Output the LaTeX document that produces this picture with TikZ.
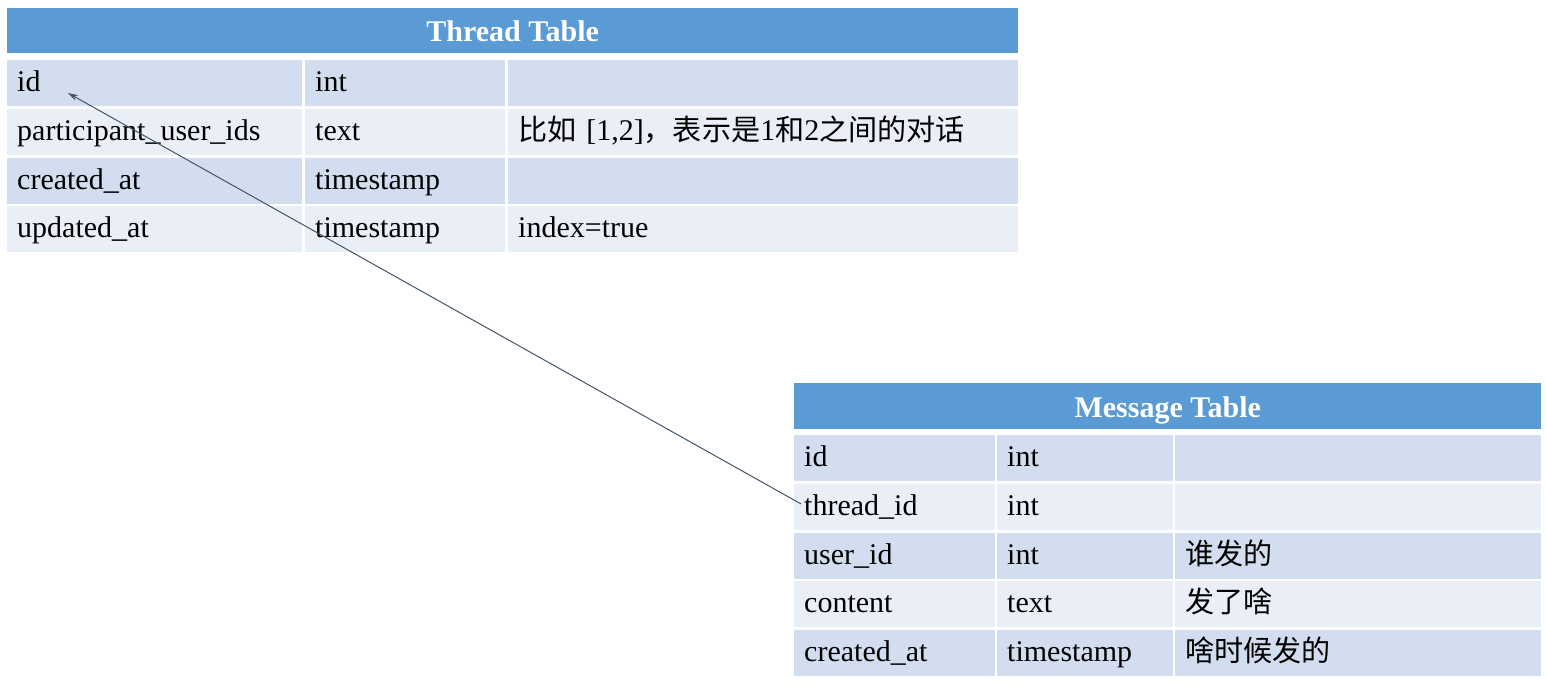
\documentclass[tikz,border=0pt]{standalone}
\usepackage{fontspec}
\setmainfont{Liberation Serif}
\newfontfamily\cjk[Scale=0.97]{Noto Sans CJK SC}
\usetikzlibrary{arrows.meta}
\definecolor{hdr}{HTML}{5B9BD5}
\definecolor{rowdark}{HTML}{D2DEEF}
\definecolor{rowlight}{HTML}{EAEFF7}
\definecolor{conncol}{HTML}{44546A}
\tikzset{
  cellbox/.style={anchor=north west, inner xsep=10pt, inner ysep=0pt,
    text height=21pt, text depth=4pt, align=left, draw=none,
    font=\fontsize{30}{36}\selectfont},
  dark/.style={fill=rowdark},
  light/.style={fill=rowlight},
  hdrbox/.style={anchor=north west, fill=hdr, text=white, inner sep=0pt,
    text height=23pt, text depth=1pt, align=center,
    font=\fontsize{30}{36}\selectfont\bfseries},
  conn/.style={draw=conncol, line width=1pt, -{Stealth[length=10pt,width=6pt]}},
}
\begin{document}
\begin{tikzpicture}[x=1pt,y=-1pt]
\useasboundingbox (0,0) rectangle (1547,688);
% ---------- Thread table ----------
\node[hdrbox, minimum width=1011pt, minimum height=45pt] (th) at (7,8) {Thread Table};
% row 1
\node[cellbox, dark, minimum width=295pt, minimum height=46pt, text width=275pt] (t11) at (7,60) {id};
\node[cellbox, dark, minimum width=200pt, minimum height=46pt, text width=180pt] (t12) at (305,60) {int};
\node[cellbox, dark, minimum width=510pt, minimum height=46pt, text width=490pt] (t13) at (508,60) {};
% row 2
\node[cellbox, light, minimum width=295pt, minimum height=46pt, text width=275pt] (t21) at (7,108.7) {participant\_user\_ids};
\node[cellbox, light, minimum width=200pt, minimum height=46pt, text width=180pt] (t22) at (305,108.7) {text};
\node[cellbox, light, minimum width=510pt, minimum height=46pt, text width=490pt] (t23) at (508,108.7) {{\cjk 比如} [1,2]{\cjk ，表示是}1{\cjk 和}2{\cjk 之间的对话}};
% row 3
\node[cellbox, dark, minimum width=295pt, minimum height=46pt, text width=275pt] (t31) at (7,157.3) {created\_at};
\node[cellbox, dark, minimum width=200pt, minimum height=46pt, text width=180pt] (t32) at (305,157.3) {timestamp};
\node[cellbox, dark, minimum width=510pt, minimum height=46pt, text width=490pt] (t33) at (508,157.3) {};
% row 4
\node[cellbox, light, minimum width=295pt, minimum height=46pt, text width=275pt] (t41) at (7,206) {updated\_at};
\node[cellbox, light, minimum width=200pt, minimum height=46pt, text width=180pt] (t42) at (305,206) {timestamp};
\node[cellbox, light, minimum width=510pt, minimum height=46pt, text width=490pt] (t43) at (508,206) {index=true};
% ---------- Message table ----------
\node[hdrbox, minimum width=747pt, minimum height=46pt] (mh) at (794,383) {Message Table};
% row 1
\node[cellbox, dark, minimum width=201pt, minimum height=46pt, text width=181pt] (m11) at (794,435) {id};
\node[cellbox, dark, minimum width=176pt, minimum height=46pt, text width=156pt] (m12) at (997,435) {int};
\node[cellbox, dark, minimum width=366pt, minimum height=46pt, text width=346pt] (m13) at (1175,435) {};
% row 2
\node[cellbox, light, minimum width=201pt, minimum height=46pt, text width=181pt] (m21) at (794,483.75) {thread\_id};
\node[cellbox, light, minimum width=176pt, minimum height=46pt, text width=156pt] (m22) at (997,483.75) {int};
\node[cellbox, light, minimum width=366pt, minimum height=46pt, text width=346pt] (m23) at (1175,483.75) {};
% row 3
\node[cellbox, dark, minimum width=201pt, minimum height=46pt, text width=181pt] (m31) at (794,532.5) {user\_id};
\node[cellbox, dark, minimum width=176pt, minimum height=46pt, text width=156pt] (m32) at (997,532.5) {int};
\node[cellbox, dark, minimum width=366pt, minimum height=46pt, text width=346pt] (m33) at (1175,532.5) {{\cjk 谁发的}};
% row 4
\node[cellbox, light, minimum width=201pt, minimum height=46pt, text width=181pt] (m41) at (794,581.25) {content};
\node[cellbox, light, minimum width=176pt, minimum height=46pt, text width=156pt] (m42) at (997,581.25) {text};
\node[cellbox, light, minimum width=366pt, minimum height=46pt, text width=346pt] (m43) at (1175,581.25) {{\cjk 发了啥}};
% row 5
\node[cellbox, dark, minimum width=201pt, minimum height=46pt, text width=181pt] (m51) at (794,630) {created\_at};
\node[cellbox, dark, minimum width=176pt, minimum height=46pt, text width=156pt] (m52) at (997,630) {timestamp};
\node[cellbox, dark, minimum width=366pt, minimum height=46pt, text width=346pt] (m53) at (1175,630) {{\cjk 啥时候发的}};
% ---------- connector ----------
\coordinate (tip) at (68,93);
\draw[conn] ([xshift=7pt,yshift=3pt]m21.west) -- (tip);
\end{tikzpicture}
\end{document}
